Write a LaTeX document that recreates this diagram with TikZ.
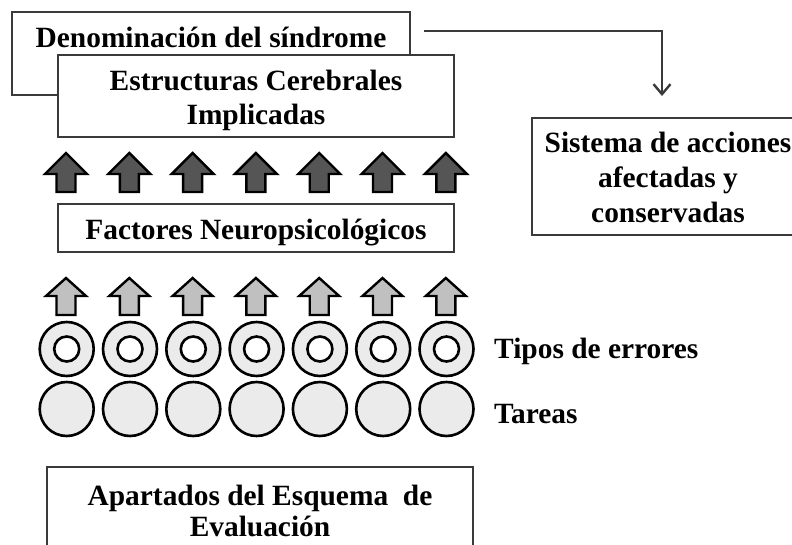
\documentclass[tikz,border=0pt]{standalone}
\usepackage{fontspec}
\setmainfont{Liberation Serif}
\usepackage{tikz}
\usetikzlibrary{arrows.meta}
\usetikzlibrary{calc}

\definecolor{darkarr}{HTML}{555555}
\definecolor{lightarr}{HTML}{C0C0C0}
\definecolor{disc}{HTML}{EBEBEB}
\definecolor{frameline}{HTML}{3A3A3A}

\tikzset{
	frame/.style={draw=frameline,line width=1.1pt,fill=white,inner sep=0pt},
	lbl/.style={font=\fontsize{29.4}{35}\selectfont\bfseries,inner sep=0pt,align=center},
	uparrow/.style={draw=black,line width=2.4pt,line join=miter},
	disco/.style={circle,draw=black,line width=2.6pt,fill=disc,minimum size=54pt,inner sep=0pt},
	hueco/.style={circle,draw=black,line width=2.6pt,fill=white,minimum size=25pt,inner sep=0pt},
	conn/.style={draw=frameline,line width=1.1pt,-{Straight Barb[length=10pt,width=17pt,line width=2.4pt]}}
}

\begin{document}
\begin{tikzpicture}[x=1pt,y=-1pt]
					\useasboundingbox (0,0) rectangle (792,545);
					\clip (0,0) rectangle (792,545);
					% cajas de arriba
					\node[frame,minimum width=398pt,minimum height=83pt] (denom) at (211,53.5) {};
					\node[lbl,anchor=base] (denomtxt) at (211,48) {Denominación del síndrome};
					\node[frame,minimum width=396pt,minimum height=82pt] (estruct) at (256,96) {};
					\node[lbl,font=\fontsize{29.4}{34}\selectfont\bfseries] (estructtxt) at (256,100.5) {Estructuras Cerebrales\\Implicadas};
					% conector hacia el sistema de acciones
					\coordinate (cini) at (424,31);
					\coordinate (cfin) at (662,96);
					\draw[conn] (cini) -| (cfin);
					\node[frame,minimum width=272pt,minimum height=117pt] (sistema) at (668,176.5) {};
					\node[lbl,font=\fontsize{29.4}{35}\selectfont\bfseries] (sistematxt) at (668,177) {Sistema de acciones\\afectadas y\\conservadas};
					% flechas oscuras
					\foreach \i in {0,...,6}
						\draw[uparrow,fill=darkarr,shift={(66+63.3*\i,0)}] (0,153) -- (21,174) -- (9.5,174) -- (9.5,192) -- (-9.5,192) -- (-9.5,174) -- (-21,174) -- cycle;
					\node[frame,minimum width=396pt,minimum height=48pt] (factores) at (256,228) {};
					\node[lbl,anchor=base] (factorestxt) at (256,240) {Factores Neuropsicológicos};
					% flechas claras
					\foreach \i in {0,...,6}
						\draw[uparrow,fill=lightarr,shift={(66+63.3*\i,0)}] (0,278) -- (20,296) -- (9.5,296) -- (9.5,315) -- (-9.5,315) -- (-9.5,296) -- (-20,296) -- cycle;
					% errores y tareas
					\foreach \i in {0,...,6} {
						\node[disco] (err\i) at (66.7+63.3*\i,349) {};
						\node[hueco] (hue\i) at (err\i) {};
						\node[disco] (tar\i) at (66.7+63.3*\i,409) {};
					}
					\node[lbl,anchor=base west] (tipos) at (494,358) {Tipos de errores};
					\node[lbl,anchor=base west] (tareas) at (494,423) {Tareas};
					% caja de abajo
					\node[frame,minimum width=426pt,minimum height=110pt] (apart) at (260,522) {};
					\node[lbl,font=\fontsize{29.4}{31}\selectfont\bfseries] (aparttxt) at (260,511) {Apartados del Esquema \ de\\Evaluación};
\end{tikzpicture}
\end{document}
